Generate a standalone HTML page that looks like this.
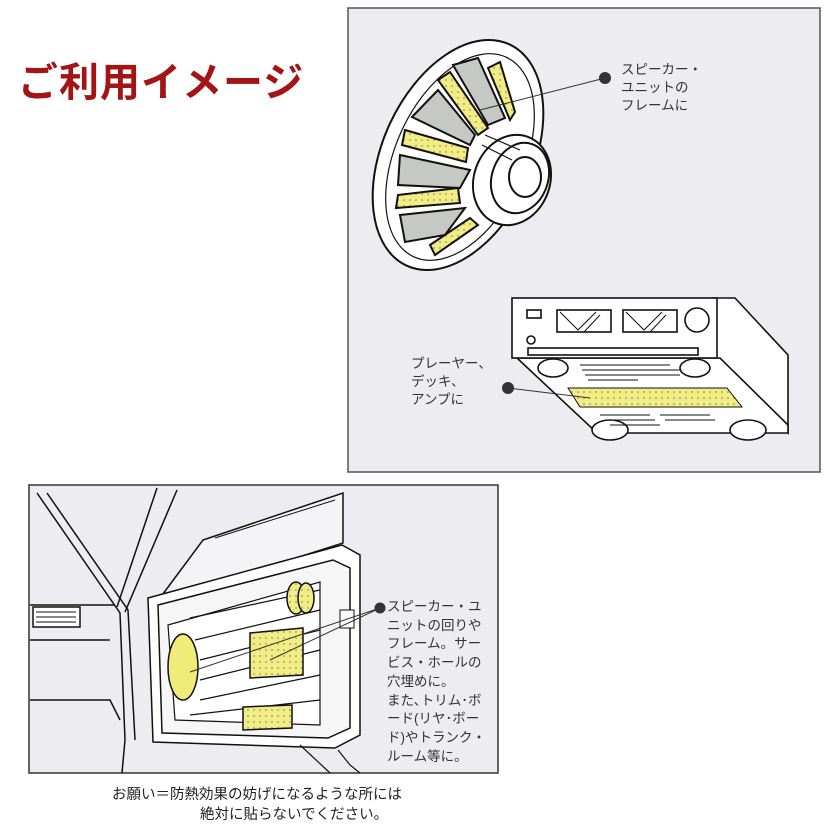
<!DOCTYPE html>
<html><head><meta charset="utf-8"><style>
html,body{margin:0;padding:0;background:#fff;}
body{width:838px;height:838px;position:relative;overflow:hidden;font-family:"Liberation Sans","Noto Sans CJK JP",sans-serif;}
.t{position:absolute;color:#333;font-size:13.5px;line-height:18px;white-space:nowrap;}
</style></head><body>
<svg width="838" height="838" style="position:absolute;left:0;top:0" xmlns="http://www.w3.org/2000/svg">
<defs>
<pattern id="dots" width="6" height="6" patternUnits="userSpaceOnUse"><rect width="6" height="6" fill="#f1ec86"/><circle cx="2" cy="2" r="0.9" fill="#9a9650"/></pattern>
</defs>
<rect x="348" y="8" width="472" height="464" fill="#ececf1" stroke="#555" stroke-width="1.5"/>
<rect x="29" y="485" width="469" height="288" fill="#ececf1" stroke="#333" stroke-width="1.5"/>

<!-- speaker -->
<g stroke="#111" stroke-width="2" fill="#fff">
<ellipse cx="458" cy="155" rx="75" ry="122" transform="rotate(25 458 155)"/>
<ellipse cx="460" cy="157" rx="64" ry="110" transform="rotate(25 460 157)" stroke-width="1.2"/>
<path d="M453 65 L478 58 L505 118 L488 125 Z" fill="#c6c8c6"/>
<path d="M438 80 L450 72 L488 128 L478 135 Z" fill="url(#dots)"/>
<path d="M412 117 L438 90 L475 135 L470 145 Z" fill="#c6c8c6"/>
<path d="M405 130 L468 148 L466 162 L402 145 Z" fill="url(#dots)"/>
<path d="M400 155 L470 170 L460 188 L398 185 Z" fill="#c6c8c6"/>
<path d="M398 195 L458 188 L460 203 L396 208 Z" fill="url(#dots)"/>
<path d="M400 215 L465 208 L445 235 L405 242 Z" fill="#c6c8c6"/>
<path d="M430 245 L470 218 L478 225 L435 255 Z" fill="url(#dots)"/>
<path d="M488 68 L500 62 L515 112 L510 120 Z" fill="url(#dots)"/>
<ellipse cx="512" cy="180" rx="38" ry="46" transform="rotate(20 512 180)"/>
<ellipse cx="520" cy="178" rx="28" ry="36" transform="rotate(20 520 178)"/>
<ellipse cx="525" cy="177" rx="16" ry="20"/>
<path d="M485 135 L520 150 M482 145 L512 160" fill="none" stroke-width="1.2"/>
</g>
<line x1="605" y1="78" x2="480" y2="110" stroke="#333" stroke-width="1"/>
<circle cx="605" cy="78" r="6" fill="#333"/>

<!-- amplifier -->
<g stroke="#111" stroke-width="1.6" fill="#fff">
<path d="M713 298 L735 298 L788 355 L788 433 L713 358 Z"/>
<path d="M517 358 L720 358 L788 425 L788 433 L597 433 Z"/>
<rect x="512" y="298" width="205" height="60"/>
<rect x="527" y="310" width="14" height="8"/>
<rect x="557" y="310" width="54" height="22"/>
<rect x="623" y="310" width="54" height="22"/>
<circle cx="697" cy="320" r="12"/>
<circle cx="531" cy="340" r="4"/>
<rect x="528" y="348" width="170" height="7"/>
<path d="M560 312 L578 330 L596 312 M600 315 L584 332 M626 312 L644 330 L662 312 M666 315 L650 332" fill="none" stroke-width="1"/>
<ellipse cx="553" cy="368" rx="15" ry="9"/>
<ellipse cx="695" cy="368" rx="15" ry="9"/>
<ellipse cx="610" cy="430" rx="18" ry="10"/>
<ellipse cx="748" cy="430" rx="18" ry="10"/>
<path d="M568 388 L727 388 L742 407 L580 407 Z" fill="url(#dots)" stroke-width="1"/>
<path d="M580 365 h50 M582 370 h50 M585 375 h50 M588 380 h50 M620 365 h50 M630 370 h50 M630 375 h50 M600 415 h50 M605 420 h50 M610 425 h50 M660 415 h50 M665 420 h50" fill="none" stroke-width="1"/>
</g>
<line x1="508" y1="388" x2="590" y2="398" stroke="#333" stroke-width="1"/>
<circle cx="508" cy="388" r="6" fill="#333"/>

<!-- car door -->
<g stroke="#111" stroke-width="1.5" fill="none">
<path d="M37 493 L120 613 L125 740 L122 773"/>
<path d="M47 493 L128 610 L135 740"/>
<path d="M157 488 L117 607 M177 490 L125 612"/>
<path d="M30 605 L115 605 M30 640 L110 640 M30 700 L110 700 L120 720"/>
<rect x="33" y="607" width="47" height="20" fill="#fff"/>
<path d="M36 612 h40 M36 617 h40 M36 622 h40" stroke-width="1"/>
<path d="M203 540 L343 493 L343 543 L157 602 Z" fill="#f4f4f6"/>
<path d="M215 538 L335 500" stroke-width="1"/>
<path d="M148 598 L342 545 L360 555 L360 735 L335 748 L153 742 Z" fill="#fff"/>
<path d="M158 605 L333 560 L350 568 L350 728 L328 738 L162 733 Z" fill="#f6f6f6"/>
<path d="M168 625 L320 582 L320 725 L175 720 Z" fill="#fff" stroke-width="1.2"/>
<path d="M190 618 L320 590 M195 640 L320 610 M200 660 L320 630 M200 680 L320 650 M200 700 L320 675 M190 715 L320 700" stroke-width="1.2"/>
<ellipse cx="183" cy="667" rx="15" ry="33" fill="#f1ec7a" stroke-width="1.5"/>
<path d="M250 633 L303 628 L303 675 L250 678 Z" fill="url(#dots)"/>
<path d="M243 707 L292 705 L292 728 L243 730 Z" fill="url(#dots)"/>
<ellipse cx="296" cy="598" rx="9" ry="16" fill="url(#dots)"/>
<ellipse cx="306" cy="598" rx="8" ry="15" fill="url(#dots)"/>
<rect x="340" y="610" width="14" height="18" fill="#fff" stroke-width="1"/>
<path d="M338 750 L350 765 L360 773 M300 745 L330 773" stroke-width="1.2"/>
</g>
<line x1="380" y1="608" x2="190" y2="672" stroke="#333" stroke-width="1"/>
<line x1="380" y1="608" x2="270" y2="660" stroke="#333" stroke-width="1"/>
<circle cx="380" cy="608" r="5.5" fill="#333"/>
</svg>

<div style="position:absolute;left:18px;top:50px;font-size:40px;font-weight:bold;color:#a31515;letter-spacing:1px;white-space:nowrap;">ご利用イメージ</div>

<div class="t" style="left:621px;top:61px;">スピーカー・<br>ユニットの<br>フレームに</div>
<div class="t" style="left:411px;top:355px;">プレーヤー、<br>デッキ、<br>アンプに</div>
<div class="t" style="left:387px;top:598px;font-size:13.5px;line-height:18.7px;">スピーカー・ユ<br>ニットの回りや<br>フレーム。サー<br>ビス・ホールの<br>穴埋めに。<br>また､トリム･ボ<br>ード(リヤ･ボー<br>ド)やトランク・<br>ルーム等に。</div>
<div class="t" style="left:112px;top:785px;font-size:14.5px;line-height:20px;color:#222;">お願い＝防熱効果の妨げになるような所には</div>
<div class="t" style="left:200px;top:805px;font-size:14.5px;line-height:20px;color:#222;">絶対に貼らないでください。</div>
</body></html>
